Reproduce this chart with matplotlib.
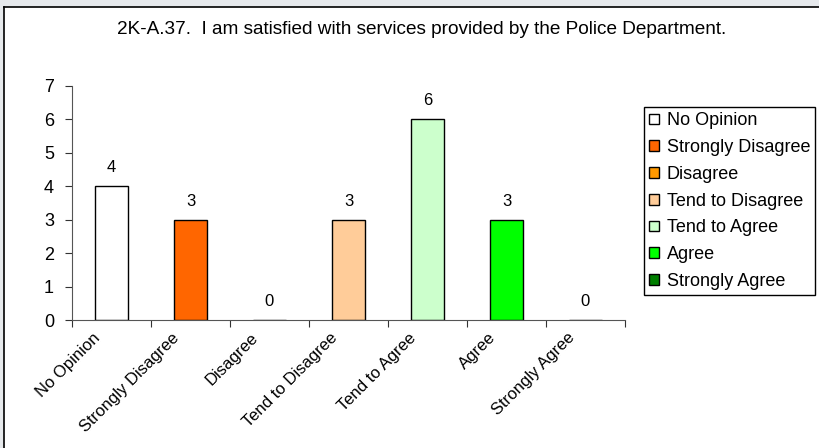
import matplotlib.pyplot as plt
from matplotlib.lines import Line2D
from matplotlib.patches import Patch, Rectangle
from matplotlib.transforms import ScaledTranslation

categories = ['No Opinion', 'Strongly Disagree', 'Disagree', 'Tend to Disagree',
              'Tend to Agree', 'Agree', 'Strongly Agree']
counts = [4, 3, 0, 3, 6, 3, 0]
colors = ['#FFFFFF', '#FF6600', '#FF9900', '#FFCC99', '#CCFFCC', '#00FF00', '#007F00']
title = '2K-A.37.  I am satisfied with services provided by the Police Department.'

plt.rcParams['font.family'] = ['Liberation Sans', 'DejaVu Sans']

fig = plt.figure(figsize=(8.2, 4.48), dpi=100)
fig.patch.set_facecolor('white')
# gray margin on top and left, black border line (rest of the chart frame is cropped)
x0, y1 = 3.5 / 820, 1 - 7.5 / 448
fig.patches.append(Rectangle((0, y1), 1, 1 - y1, transform=fig.transFigure,
                             facecolor='#E6E9EC', edgecolor='none', zorder=-5))
fig.patches.append(Rectangle((0, 0), x0, 1, transform=fig.transFigure,
                             facecolor='#E6E9EC', edgecolor='none', zorder=-5))
fig.add_artist(Line2D([x0, x0], [0, y1], transform=fig.transFigure, color='black', lw=1.2))
fig.add_artist(Line2D([x0, 1], [y1, y1], transform=fig.transFigure, color='black', lw=1.2))

ax = fig.add_axes([72 / 820, 1 - 320 / 448, 553 / 820, 234 / 448])
ax.set_facecolor('none')
x = list(range(len(categories)))
ax.bar(x, counts, width=0.42, color=colors, edgecolor='black', linewidth=1)
for xi, c in zip(x, counts):
    ax.annotate(str(c), (xi, c), xytext=(0, 8), textcoords='offset points',
                ha='center', va='bottom', fontsize=12)

ax.set_xlim(-0.5, len(categories) - 0.5)
ax.set_ylim(0, 7)
ax.set_yticks(range(0, 8))
# category ticks sit on the boundaries, labels drawn rotated under each category
ax.set_xticks([i - 0.5 for i in range(len(categories) + 1)])
ax.set_xticklabels([])
lab_trans = ax.get_xaxis_transform() + ScaledTranslation(-0.19, -0.10, fig.dpi_scale_trans)
for xi, cat in zip(x, categories):
    ax.text(xi, 0, cat, transform=lab_trans, rotation=45, ha='right', va='top',
            rotation_mode='anchor', fontsize=12)
ax.tick_params(axis='x', which='major', length=5, direction='out', color='#333333')
ax.tick_params(axis='y', length=5, direction='out', labelsize=13, pad=8, color='#333333')
for s in ['top', 'right']:
    ax.spines[s].set_visible(False)
for s in ['left', 'bottom']:
    ax.spines[s].set_color('#555555')

fig.text(422 / 820, 1 - 30 / 448, title, fontsize=13.7, ha='center', va='center')

handles = [Patch(facecolor=c, edgecolor='black', linewidth=1) for c in colors]
fig.legend(handles, categories, loc='upper left', bbox_to_anchor=(644 / 820, 1 - 107 / 448),
           fontsize=13, frameon=True, fancybox=False, edgecolor='black', framealpha=1,
           handlelength=0.55, handleheight=0.55, handletextpad=0.4, labelspacing=0.54,
           borderpad=0.3, borderaxespad=0)

fig.savefig('out.png', dpi=100)
